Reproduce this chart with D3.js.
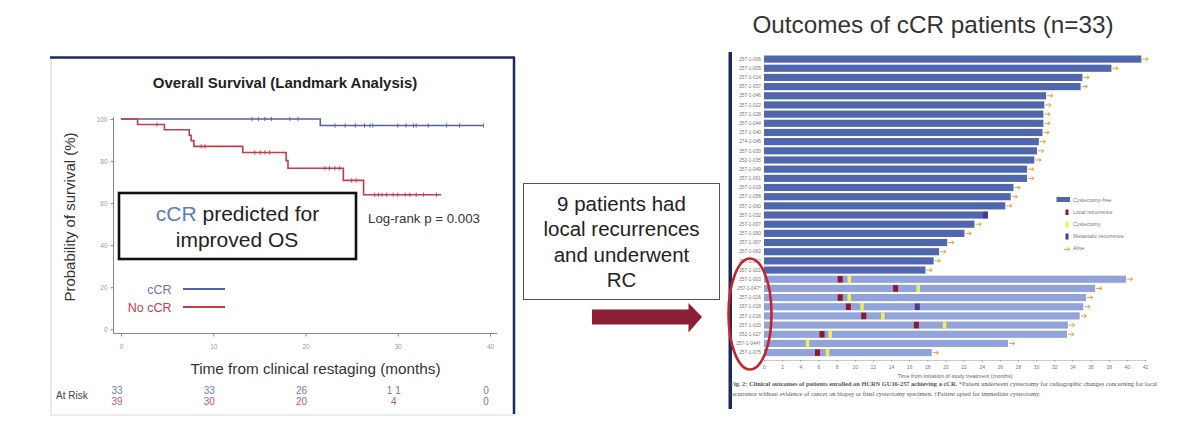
<!DOCTYPE html>
<html><head><meta charset="utf-8">
<script src="https://cdn.jsdelivr.net/npm/d3@7"></script>
<style>
body{margin:0;background:#fff;}
svg{display:block;font-family:"Liberation Sans",Arial,sans-serif;}
</style>
</head><body>
<svg id="c" width="1200" height="447"></svg>
<script>
// ---------- Kaplan-Meier data ----------
const kmXTicks = [0, 10, 20, 30, 40];
const kmYTicks = [0, 20, 40, 60, 80, 100];
const ccrTimes = [0, 21.6, 39.3];
const ccrSurv = [100, 96.9, 96.9];
const ccrCensor = [14.2, 14.9, 15.6, 16.3, 18.3, 19.2, 23.2, 24.3, 25.4, 26.4, 27.0, 27.3, 30.0, 30.9, 31.7, 32.0, 33.3, 35.3, 36.7, 39.3];
const noCcrTimes = [0, 1.8, 4.7, 7.4, 7.6, 7.9, 13.2, 17.9, 18.1, 24.1, 26.3, 34.7];
const noCcrSurv = [100, 97.4, 94.9, 92.3, 89.7, 87.0, 84.1, 80.2, 76.6, 70.8, 64.0, 64.0];
const noCcrCensor = [3.9, 8.7, 9.1, 14.5, 15.1, 15.6, 16.1, 22.1, 22.6, 23.2, 23.7, 25.0, 25.5, 27.5, 27.9, 28.3, 28.8, 29.5, 30.0, 30.8, 31.3, 32.0, 32.8, 34.2];
const atRiskTimes = [0, 10, 20, 30, 40];
const atRiskCcr = ["33", "33", "26", "1 1", "0"];
const atRiskNoCcr = ["39", "30", "20", "4", "0"];

// ---------- Swimmer plot data ----------
const patientIds = ["257-1-006","257-1-005","257-1-014","257-1-037","257-1-046","257-1-022","257-1-028","257-1-044","257-1-040","274-1-045","257-1-030","252-1-035","257-1-049","257-1-061","257-1-019","257-1-058","257-1-060","257-1-032","257-1-007","257-1-050","257-1-367","257-1-082","257-1-012","257-1-021","257-1-003","257-1-047*","257-1-026","157-1-018","257-1-016","257-1-033","252-1-027","257-1-044\u2020","257-1-075"];
const followUp = [41.6,38.3,35.1,34.9,31.1,30.9,30.8,30.8,30.7,30.3,30.1,29.8,29.0,29.0,27.5,27.2,26.6,24.7,23.2,22.1,20.2,19.3,18.7,17.8,39.9,36.5,35.5,35.2,34.8,33.5,33.4,26.9,18.5];
const group = ["free","free","free","free","free","free","free","free","free","free","free","free","free","free","free","free","free","free","free","free","free","free","free","free","rc","rc","rc","rc","rc","rc","rc","rc","rc"];
const localRecurrence = [null,null,null,null,null,null,null,null,null,null,null,null,null,null,null,null,null,null,null,null,null,null,null,null,8.4,14.5,8.4,9.3,11.0,16.8,6.4,null,5.9];
const cystectomy = [null,null,null,null,null,null,null,null,null,null,null,null,null,null,null,null,null,null,null,null,null,null,null,null,9.4,17.0,9.4,10.8,13.1,19.9,7.3,4.8,7.0];
const metastatic = [null,null,null,null,null,null,null,null,null,null,null,null,null,null,null,null,null,24.4,null,null,null,null,null,null,null,null,null,16.9,null,null,null,null,null];
const alive = [true,true,true,true,true,true,true,true,true,true,true,true,true,true,true,true,true,false,true,true,true,true,true,true,true,true,true,true,true,true,true,true,true];
const swimTicks = [0,2,4,6,8,10,12,14,16,18,20,22,24,26,28,30,32,34,36,38,40,42];
const legendLabels = ["Cystectomy-free","Local recurrence","Cystectomy","Metastatic recurrence","Alive"];
const boxLines = ["9 patients had","local recurrences","and underwent","RC"];

const svg = d3.select("#c");

// ================= LEFT PANEL =================
const panel = svg.append("g");
panel.append("rect").attr("x",51).attr("y",58).attr("width",463).attr("height",357)
  .attr("fill","#fff").attr("stroke","#d6d6d6").attr("stroke-width",1);
panel.append("line").attr("x1",50).attr("x2",515).attr("y1",57.5).attr("y2",57.5).attr("stroke","#1d2b5c").attr("stroke-width",2.5);
panel.append("line").attr("x1",514).attr("x2",514).attr("y1",57).attr("y2",414).attr("stroke","#1d2b5c").attr("stroke-width",2.5);

panel.append("text").attr("x",285).attr("y",88).attr("text-anchor","middle")
  .attr("font-size",15).attr("font-weight","bold").attr("fill","#222")
  .text("Overall Survival (Landmark Analysis)");

const kx = d3.scaleLinear().domain([0,40]).range([121,490]);
const ky = d3.scaleLinear().domain([0,100]).range([329.3,119]);

const yAx = panel.append("g").attr("transform","translate(113.5,0)")
  .call(d3.axisLeft(ky).tickValues(kmYTicks).tickSize(3).tickSizeOuter(0));
yAx.select(".domain").attr("stroke","#888").attr("d","M0,117V333");
yAx.selectAll(".tick line").attr("stroke","#888");
yAx.selectAll(".tick text").attr("font-size",6.5).attr("fill","#999").attr("font-family","Liberation Sans, Arial");

const xAx = panel.append("g").attr("transform","translate(0,333.5)")
  .call(d3.axisBottom(kx).tickValues(kmXTicks).tickSize(3).tickSizeOuter(0));
xAx.select(".domain").attr("stroke","#888").attr("d","M113,0H497");
xAx.selectAll(".tick line").attr("stroke","#888");
xAx.selectAll(".tick text").attr("font-size",6.5).attr("fill","#999").attr("dy","1.4em").attr("font-family","Liberation Sans, Arial");

panel.append("text").attr("x",315.5).attr("y",374).attr("text-anchor","middle")
  .attr("font-size",15.3).attr("fill","#333").text("Time from clinical restaging (months)");
panel.append("text").attr("transform","translate(75,217) rotate(-90)").attr("text-anchor","middle")
  .attr("font-size",15).attr("fill","#333").text("Probability of survival (%)");

const kmLine = d3.line().x(d=>kx(d[0])).y(d=>ky(d[1])).curve(d3.curveStepAfter);
function stepVal(times, surv, t){ const i = d3.bisectRight(times, t) - 1; return surv[Math.max(0,i)]; }
const kmSeries = [
  {times: ccrTimes, surv: ccrSurv, cens: ccrCensor, color: "#5560a4"},
  {times: noCcrTimes, surv: noCcrSurv, cens: noCcrCensor, color: "#c53a4c"}
];
kmSeries.forEach(s=>{
  panel.append("path").datum(s.times.map((t,i)=>[t,s.surv[i]]))
    .attr("d",kmLine).attr("fill","none").attr("stroke",s.color).attr("stroke-width",1.6);
  panel.selectAll(null).data(s.cens).join("line")
    .attr("x1",d=>kx(d)).attr("x2",d=>kx(d))
    .attr("y1",d=>ky(stepVal(s.times,s.surv,d))-2.2).attr("y2",d=>ky(stepVal(s.times,s.surv,d))+2.2)
    .attr("stroke",s.color).attr("stroke-width",0.9);
});

// legend
panel.append("text").attr("x",171.5).attr("y",294).attr("text-anchor","end").attr("font-size",12.5).attr("fill","#6b73ad").text("cCR");
panel.append("line").attr("x1",183).attr("x2",225).attr("y1",289).attr("y2",289).attr("stroke","#5560a4").attr("stroke-width",1.8);
panel.append("text").attr("x",171.5).attr("y",311.5).attr("text-anchor","end").attr("font-size",12.5).attr("fill","#c64050").text("No cCR");
panel.append("line").attr("x1",183).attr("x2",225).attr("y1",307).attr("y2",307).attr("stroke","#c53a4c").attr("stroke-width",1.8);

// log-rank
panel.append("text").attr("x",368).attr("y",222.5).attr("font-size",13.3).attr("fill","#333").text("Log-rank p = 0.003");

// callout box
panel.append("rect").attr("x",119).attr("y",193).attr("width",237).attr("height",66)
  .attr("fill","#fff").attr("stroke","#111").attr("stroke-width",2.6);
const t1 = panel.append("text").attr("x",237.5).attr("y",221).attr("text-anchor","middle").attr("font-size",21).attr("fill","#222");
t1.append("tspan").attr("fill","#5b7cc0").text("cCR");
t1.append("tspan").text(" predicted for");
panel.append("text").attr("x",237).attr("y",247).attr("text-anchor","middle").attr("font-size",21).attr("fill","#222").text("improved OS");

// at risk
panel.append("text").attr("x",56).attr("y",399).attr("font-size",10).attr("fill","#444").text("At Risk");
panel.selectAll(null).data(atRiskCcr).join("text")
  .attr("x",(d,i)=>kx(atRiskTimes[i])-4).attr("y",394).attr("text-anchor","middle")
  .attr("font-size",10).attr("fill","#6f7ab2").text(d=>d);
panel.selectAll(null).data(atRiskNoCcr).join("text")
  .attr("x",(d,i)=>kx(atRiskTimes[i])-4).attr("y",405).attr("text-anchor","middle")
  .attr("font-size",10).attr("fill","#c3566a").text(d=>d);

// ================= MIDDLE =================
svg.append("rect").attr("x",523.5).attr("y",183.5).attr("width",196).attr("height",116)
  .attr("fill","#fff").attr("stroke","#555").attr("stroke-width",1);
svg.selectAll(null).data(boxLines).join("text")
  .attr("x",621.5).attr("y",(d,i)=>210.5+i*25.6).attr("text-anchor","middle")
  .attr("font-size",20.5).attr("fill","#222").text(d=>d);
svg.append("path").attr("d","M592,309.5H688.5V303L702,317L688.5,332.5V324.5H592Z").attr("fill","#8c1f37");

// ================= RIGHT PANEL =================
svg.append("text").attr("x",933).attr("y",33).attr("text-anchor","middle")
  .attr("font-size",24.3).attr("fill","#333").text("Outcomes of cCR patients (n=33)");
svg.append("rect").attr("x",728.5).attr("y",52).attr("width",3.5).attr("height",357).attr("fill","#1c2a5a");

const sx = d3.scaleLinear().domain([0,42]).range([764,1145]);
const sy = d3.scaleBand().domain(patientIds).range([54.5,357.2]).paddingInner(0.22).paddingOuter(0.11);
const bh = sy.bandwidth();
const barColor = {free:"#5066ad", rc:"#91a3d8"};

svg.selectAll(null).data(patientIds).join("rect")
  .attr("x",sx(0)).attr("y",d=>sy(d)).attr("height",bh)
  .attr("width",(d,i)=>sx(followUp[i])-sx(0)).attr("fill",(d,i)=>barColor[group[i]]);

svg.selectAll(null).data(patientIds).join("text")
  .attr("x",sx(0)-3).attr("y",d=>sy(d)+bh/2+1.7).attr("text-anchor","end")
  .attr("font-size",4.8).attr("fill","#777").text(d=>d);

function markers(arr, color, w, h){
  svg.selectAll(null).data(arr.map((v,i)=>[v,i]).filter(d=>d[0]!==null)).join("rect")
    .attr("x",d=>sx(d[0])-w/2).attr("y",d=>sy(patientIds[d[1]])+bh/2-h/2)
    .attr("width",w).attr("height",h).attr("fill",color);
}
markers(cystectomy, "#eef05a", 3.5, 7.5);
markers(localRecurrence, "#8e1630", 5, 6.5);
markers(metastatic, "#4b3a8e", 5, 6.5);

// alive arrows
const arrowPath = (x,y)=>`M${x+1},${y}H${x+6.5}M${x+4.5},${y-1.8}L${x+6.8},${y}L${x+4.5},${y+1.8}`;
svg.selectAll(null).data(patientIds.filter((d,i)=>alive[i])).join("path")
  .attr("d",d=>{const i=patientIds.indexOf(d); return arrowPath(sx(followUp[i]), sy(d)+bh/2);})
  .attr("fill","none").attr("stroke","#e3a23a").attr("stroke-width",1);

// swimmer x axis
const sAx = svg.append("g").attr("transform","translate(0,360)")
  .call(d3.axisBottom(sx).tickValues(swimTicks).tickSize(1.5).tickSizeOuter(0));
sAx.select(".domain").attr("stroke","#ccc");
sAx.selectAll(".tick line").attr("stroke","#999");
sAx.selectAll(".tick text").attr("font-size",5).attr("fill","#777").attr("dy","0.9em").attr("font-family","Liberation Sans, Arial");
svg.append("text").attr("x",955).attr("y",378).attr("text-anchor","middle")
  .attr("font-size",5.5).attr("fill","#666").text("Time from initiation of study treatment (months)");

// legend
const lg = svg.append("g");
lg.append("rect").attr("x",1056.5).attr("y",197).attr("width",13.5).attr("height",5).attr("fill","#5066ad");
lg.append("rect").attr("x",1065.5).attr("y",209.5).attr("width",3).attr("height",5.5).attr("fill","#8e1630");
lg.append("rect").attr("x",1065.5).attr("y",221.5).attr("width",3).attr("height",6).attr("fill","#eef05a");
lg.append("rect").attr("x",1065.5).attr("y",233.5).attr("width",3).attr("height",6).attr("fill","#4b3a8e");
lg.append("path").attr("d",arrowPath(1063,249.3)).attr("fill","none").attr("stroke","#e3a23a").attr("stroke-width",1);
lg.selectAll(null).data(legendLabels).join("text")
  .attr("x",1073).attr("y",(d,i)=>201.5+i*12.2).attr("font-size",5.3).attr("fill","#777").text(d=>d);

// caption
const cap = svg.append("text").attr("x",730).attr("y",386).attr("font-size",6.4).attr("fill","#555")
  .attr("font-family","Liberation Serif, Times New Roman, serif");
cap.append("tspan").attr("font-weight","bold").text("Fig. 2: Clinical outcomes of patients enrolled on HCRN GU16-257 achieving a cCR.");
cap.append("tspan").text(" *Patient underwent cystectomy for radiographic changes concerning for local");
svg.append("text").attr("x",730).attr("y",395.5).attr("font-size",6.4).attr("fill","#555")
  .attr("font-family","Liberation Serif, Times New Roman, serif")
  .text("recurrence without evidence of cancer on biopsy or final cystectomy specimen. \u2020Patient opted for immediate cystectomy.");

// red ellipse
svg.append("ellipse").attr("cx",750).attr("cy",314).attr("rx",21.5).attr("ry",55.5)
  .attr("fill","none").attr("stroke","#c4242c").attr("stroke-width",2.6);
</script>
</body></html>
